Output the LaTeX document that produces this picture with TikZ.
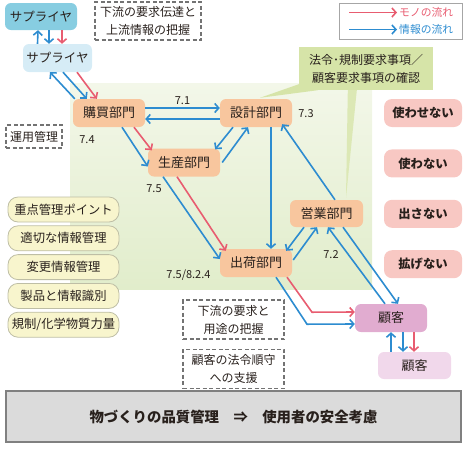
\documentclass[tikz,border=0pt]{standalone}
\usepackage{fontspec}
\setmainfont{Noto Sans CJK JP}
\usepackage{xcolor}
\definecolor{infoblue}{RGB}{45,140,208}
\definecolor{monored}{RGB}{232,92,112}
\definecolor{deptfill}{RGB}{248,198,158}
\definecolor{pinkfill}{RGB}{248,200,195}
\definecolor{listfill}{RGB}{248,245,205}
\definecolor{listframe}{RGB}{190,190,165}
\definecolor{supdark}{RGB}{135,205,225}
\definecolor{suplight}{RGB}{214,236,246}
\definecolor{custdark}{RGB}{225,172,208}
\definecolor{custlight}{RGB}{241,216,235}
\definecolor{callgreen}{RGB}{214,228,168}
\definecolor{bgtop}{RGB}{243,247,233}
\definecolor{bgbot}{RGB}{225,237,203}
\definecolor{txt}{RGB}{40,32,28}
\usepackage{tikz}
\usetikzlibrary{arrows.meta,positioning}
\tikzset{
  fc_dept/.style={rectangle,rounded corners=6pt,
    fill=deptfill,text=txt,
    minimum width=72pt,minimum height=28pt,
    inner sep=0pt,font=\fontsize{13}{15}\selectfont},
  fc_sup/.style={rectangle,rounded corners=6pt,
    text=txt,minimum height=27pt,
    inner sep=0pt,font=\fontsize{12.5}{15}\selectfont},
  fc_pink/.style={rectangle,rounded corners=8pt,
    fill=pinkfill,text=txt,
    minimum width=78pt,minimum height=28pt,
    inner sep=0pt,font=\fontsize{12.3}{15}\selectfont\bfseries},
  fc_list/.style={rectangle,rounded corners=10pt,
    draw=listframe,fill=listfill,text=txt,line width=0.8pt,
    minimum width=111pt,minimum height=25pt,
    inner sep=0pt,font=\fontsize{12.3}{15}\selectfont},
  fc_dash/.style={rectangle,draw=black!55,dashed,line width=1.2pt,
    dash pattern=on 4pt off 2.5pt,text=txt,align=center,
    inner sep=0pt,font=\fontsize{12}{18}\selectfont},
  num_lbl/.style={text=txt,inner sep=0pt,font=\fontsize{11}{13}\selectfont},
  arr_info/.style={-{Straight Barb[length=4pt,width=9pt]},
    line width=1.6pt,draw=infoblue},
  arr_mono/.style={-{Straight Barb[length=4pt,width=9pt]},
    line width=1.6pt,draw=monored},
}
\begin{document}
\begin{tikzpicture}[x=1pt,y=-1pt]

  \useasboundingbox (0,0) rectangle (468,448);

  % background of the company area
  \shade[top color=bgtop,bottom color=bgbot] (70,83) rectangle (372,289);

  \node (callout) [rectangle,fill=callgreen,text=txt,align=center,
        minimum width=134pt,minimum height=43pt,inner sep=0pt,
        font=\fontsize{12}{18}\selectfont] at (366,68.5)
    {法令･規制要求事項／\\顧客要求事項の確認};

  \node (sup1) [fc_sup,fill=supdark,minimum width=72pt] at (41,16.5) {サプライヤ};
  \node (sup2) [fc_sup,fill=suplight,minimum width=69pt,minimum height=28pt]
    at (57.5,58) {サプライヤ};

  \node (kobai)  [fc_dept] at (109,113)   {購買部門};
  \node (sekkei) [fc_dept] at (256,113)   {設計部門};
  \node (seisan) [fc_dept] at (184,162.5) {生産部門};
  \node (eigyo)  [fc_dept,minimum width=73pt,minimum height=27pt]
    at (326.5,213.5) {営業部門};
  \node (shukka) [fc_dept] at (256,263)   {出荷部門};

  \node (cust1) [fc_dept,fill=custdark] at (391,318) {顧客};
  \node (cust2) [fc_dept,fill=custlight,minimum width=73pt,minimum height=27pt]
    at (414.5,365.5) {顧客};

  % pointers of the callout
  \fill[callgreen] ([yshift=6pt]callout.south west)
    -- ([xshift=19pt]callout.south west)
    -- ([xshift=4pt,yshift=1pt]sekkei.north) -- cycle;
  \fill[callgreen!85] ([xshift=49pt]callout.south west)
    -- ([xshift=58pt]callout.south west)
    -- ([xshift=19.5pt,yshift=2pt]eigyo.north) -- cycle;

  % right column
  \node (p1) [fc_pink] at (423,113) {使わせない};
  \node (p2) [fc_pink,below=22pt of p1] {使わない};
  \node (p3) [fc_pink,below=22pt of p2] {出さない};
  \node (p4) [fc_pink,below=22pt of p3] {拡げない};

  % left column
  \node (l1) [fc_list] at (63.5,209.5) {重点管理ポイント};
  \node (l2) [fc_list,below=3pt of l1] {適切な情報管理};
  \node (l3) [fc_list,below=3pt of l2] {変更情報管理};
  \node (l4) [fc_list,below=3pt of l3] {製品と情報識別};
  \node (l5) [fc_list,below=3pt of l4] {規制/化学物質力量};

  % dashed notes
  \node (note_up) [fc_dash,minimum width=106pt,minimum height=38pt]
    at (148,21) {下流の要求伝達と\\上流情報の把握};
  \node (note_op) [fc_dash,minimum width=56pt,minimum height=23pt,
        font=\fontsize{12}{15}\selectfont] at (34,136.5) {運用管理};
  \node (note_dn) [fc_dash,minimum width=101pt,minimum height=39pt]
    at (233.5,319.5) {下流の要求と\\用途の把握};
  \node (note_law) [fc_dash,below=9pt of note_dn,
        minimum width=101pt,minimum height=39pt]
    {顧客の法令順守\\への支援};

  % legend
  \node (legend) [rectangle,draw=black!35,line width=1pt,
        minimum width=123pt,minimum height=36pt] at (400.5,21) {};
  \node (leg_mono) [anchor=west,inner sep=2pt,text=monored,
        font=\fontsize{10.8}{13}\selectfont] at (397,12.5) {モノの流れ};
  \node (leg_info) [anchor=west,inner sep=2pt,text=infoblue,
        font=\fontsize{10.8}{13}\selectfont] at (397,29.5) {情報の流れ};
  \coordinate (leg_a) at (349,12.5);
  \coordinate (leg_b) at (349,29.5);
  \draw[arr_mono] (leg_a) -- (leg_mono.west);
  \draw[arr_info] (leg_b) -- (leg_info.west);

  % bottom bar
  \node (bar) [rectangle,draw=black!50,line width=2pt,fill=black!14,
        text=txt,minimum width=455pt,minimum height=51pt,
        font=\fontsize{14.4}{17}\selectfont\bfseries] at (233.5,416.5)
    {物づくりの品質管理\quad ⇒\quad 使用者の安全考慮};

  % section numbers
  \node [num_lbl] at (306,114)   {7.3};
  \node [num_lbl] at (87,140)    {7.4};
  \node [num_lbl] at (154,189)   {7.5};
  \node [num_lbl] at (188.5,275) {7.5/8.2.4};
  \node [num_lbl] at (331,255)   {7.2};

  % suppliers
  \draw[arr_info] ([xshift=-20pt]sup2.north) -- ([xshift=-3pt]sup1.south);
  \draw[arr_info] ([xshift=8pt]sup1.south)   -- ([xshift=-8.5pt]sup2.north);
  \draw[arr_mono] ([xshift=21pt]sup1.south)  -- ([xshift=4.5pt]sup2.north);
  \draw[arr_info] ([xshift=2pt]kobai.north west)  -- ([xshift=-7.5pt]sup2.south);
  \draw[arr_info] ([xshift=5.5pt]sup2.south)  -- ([xshift=14pt]kobai.north west);
  \draw[arr_mono] ([xshift=19.5pt]sup2.south) -- ([xshift=24pt]kobai.north west);

  % inside the company
  \draw[arr_info] ([yshift=5pt]kobai.east) --
    node[num_lbl,above=3pt]{7.1} ([yshift=5pt]sekkei.west);
  \draw[arr_info] ([yshift=-6pt]sekkei.west) -- ([yshift=-6pt]kobai.east);
  \draw[arr_info] ([xshift=13pt]kobai.south) -- ([yshift=-4pt]seisan.west);
  \draw[arr_mono] ([xshift=25pt]kobai.south)
    -- ([xshift=4pt,yshift=-2pt]seisan.north west);
  \draw[arr_info] ([xshift=-23pt]sekkei.south)
    -- ([xshift=-5pt,yshift=-1pt]seisan.north east);
  \draw[arr_info] ([xshift=2pt]seisan.east) -- ([xshift=-8pt]sekkei.south);
  \draw[arr_info] ([xshift=15pt]sekkei.south) -- ([xshift=15pt]shukka.north);
  \draw[arr_info] ([xshift=8.5pt]eigyo.north)
    -- ([xshift=-10pt,yshift=3pt]sekkei.south east);
  \draw[arr_info] ([xshift=-21pt]seisan.south) -- ([yshift=4pt]shukka.west);
  \draw[arr_mono] ([xshift=-7pt]seisan.south)
    -- ([xshift=6pt,yshift=-2pt]shukka.north west);
  \draw[arr_info] ([xshift=-22.5pt]eigyo.south)
    -- ([xshift=-6pt,yshift=-2pt]shukka.north east);
  \draw[arr_info] ([xshift=1pt,yshift=3pt]shukka.east)
    -- ([xshift=-9.5pt]eigyo.south);

  % customers
  \draw[arr_info] ([xshift=-6pt]cust1.north) -- ([xshift=1.5pt]eigyo.south);
  \draw[arr_info] ([xshift=16.5pt]eigyo.south) -- ([xshift=7pt]cust1.north);
  \draw[arr_mono] ([xshift=31pt]shukka.south) -- ++(25,35)
    -- ([yshift=6pt]cust1.west);
  \draw[arr_info] ([xshift=20pt]shukka.south) -- ++(31,47)
    -- ([yshift=-6pt]cust1.west);
  \draw[arr_info] ([xshift=-23.5pt]cust2.north) -- (cust1.south);
  \draw[arr_info] ([xshift=12pt]cust1.south) -- ([xshift=-11.5pt]cust2.north);
  \draw[arr_mono] ([xshift=23pt]cust1.south) -- ([xshift=-0.5pt]cust2.north);

\end{tikzpicture}
\end{document}
